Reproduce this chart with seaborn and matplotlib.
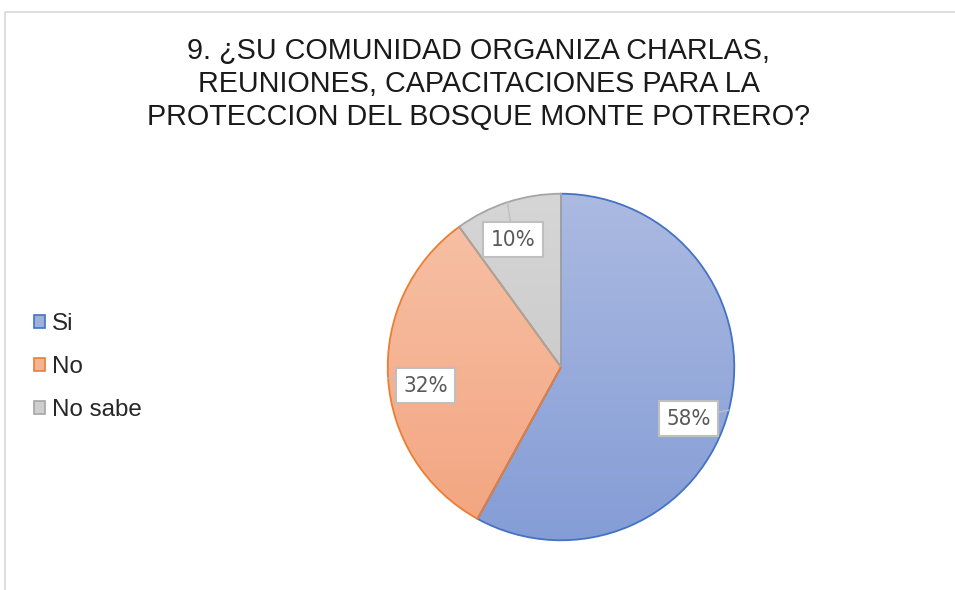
import numpy as np
import matplotlib
matplotlib.use("Agg")
import matplotlib.pyplot as plt
from matplotlib.colors import LinearSegmentedColormap
from matplotlib.patches import Rectangle, Patch
import seaborn as sns

# data
TITLE = ("9. ¿SU COMUNIDAD ORGANIZA CHARLAS,\n"
         "REUNIONES, CAPACITACIONES PARA LA\n"
         "PROTECCION DEL BOSQUE MONTE POTRERO?")
labels = ["Si", "No", "No sabe"]
values = [58, 32, 10]

# style
edge_colors = ["#4472c4", "#ed7d31", "#a5a5a5"]
top_colors = ["#abbae1", "#f7c2a8", "#d6d6d6"]
bot_colors = ["#859dd6", "#f3a47f", "#c3c3c3"]
legend_fill = ["#9fb0dc", "#f5b394", "#cfcfcf"]
label_nudge = [(-0.04, -0.1), (0.017, -0.058), (-0.03, -0.025)]

sns.set_style("white")
plt.rcParams["font.family"] = ["Liberation Sans", "DejaVu Sans"]

fig = plt.figure(figsize=(9.55, 5.90), dpi=100)
fig.patches.append(Rectangle((5 / 955, -0.1), 1.2, 1 - 12 / 590 + 0.1,
                             transform=fig.transFigure, fill=False,
                             edgecolor="#d9d9d9", linewidth=1.2, zorder=0))

fig.text(0.5015, 1 - 84 / 590, TITLE, ha="center", va="center",
         fontsize=20.7, color="#1a1a1a", linespacing=1.22)

# pie axes
cx, cy, R = 561, 367, 175
ax = fig.add_axes([(cx - R) / 955, 1 - (cy + R) / 590, 2 * R / 955, 2 * R / 590])
wedges, _, pcts = ax.pie(values, startangle=90, counterclock=False,
                         autopct="%1.0f%%", pctdistance=0.8, radius=1.0,
                         wedgeprops=dict(linewidth=1.3))
ax.set_xlim(-1.01, 1.01)
ax.set_ylim(-1.01, 1.01)
ax.set_aspect("equal")
ax.axis("off")

grad = np.linspace(0, 1, 256).reshape(-1, 1)
for w, ec, tc, bc in zip(wedges, edge_colors, top_colors, bot_colors):
    w.set_facecolor("none")
    w.set_edgecolor(ec)
    w.set_zorder(3)
    cmap = LinearSegmentedColormap.from_list("g", [tc, bc])
    im = ax.imshow(grad, cmap=cmap, extent=[-1, 1, -1, 1], origin="upper",
                   aspect="auto", zorder=2)
    im.set_clip_path(w)

# leader lines + labelled boxes
for w, t, (dx, dy) in zip(wedges, pcts, label_nudge):
    mid = np.deg2rad((w.theta1 + w.theta2) / 2)
    x, y = t.get_position()
    x, y = x + dx, y + dy
    t.set_position((x, y))
    ax.plot([x, np.cos(mid)], [y, np.sin(mid)], color="#bfbfbf", lw=1, zorder=4)
    t.set_fontfamily(["DejaVu Sans", "Liberation Sans"])
    t.set_fontstretch("condensed")
    t.set_fontsize(16)
    t.set_color("#595959")
    t.set_zorder(5)
    t.set_bbox(dict(boxstyle="square,pad=0.33", facecolor="white",
                    edgecolor="#bfbfbf", linewidth=1.5))

handles = [Patch(facecolor=f, edgecolor=e, linewidth=1.2)
           for f, e in zip(legend_fill, edge_colors)]
fig.legend(handles, labels, loc="center left", bbox_to_anchor=(0.013, 1 - 367 / 590),
           frameon=False, fontsize=17.4, handlelength=0.45, handleheight=0.45,
           handletextpad=0.3, labelspacing=0.88)

fig.savefig("out.png", dpi=100)
